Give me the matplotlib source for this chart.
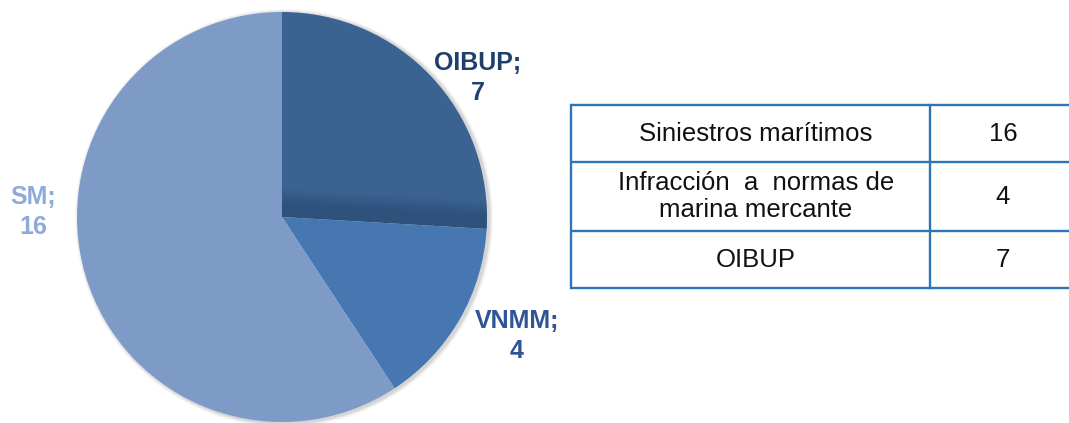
#!/usr/bin/env python3

import matplotlib.pyplot as plt
from matplotlib.patches import Polygon, Circle
import numpy as np

plt.rcParams['font.family'] = ['Liberation Sans', 'DejaVu Sans']

# pie data (clockwise from 12 o'clock)
pie_names  = ["OIBUP", "VNMM", "SM"]
pie_values = [7, 4, 16]
pie_colors = ["#3B6392", "#4677B0", "#7E9BC8"]
label_colors = ["#213F6E", "#2F5597", "#8EAADB"]
label_pos  = [(478, 78), (517, 336), (33, 212)]   # pixel positions (from top)

# table data
table_labels = ["Siniestros marítimos", "Infracción  a  normas de\nmarina mercante", "OIBUP"]
table_values = [16, 4, 7]

W, H = 1069, 423
px = 1/100
fig = plt.figure(figsize=(W*px, H*px), dpi=100)
ax = fig.add_axes([0, 0, 1, 1])

cx, cy, r = 282, H - 217, 205

# soft shadow around pie
for i, a in enumerate([0.05, 0.05, 0.04, 0.03]):
    ax.add_patch(Circle((cx + 2, cy - 1), r + 1 + i, color="#000000", alpha=a, lw=0, zorder=0))

wedges, _ = ax.pie(pie_values, colors=pie_colors, startangle=90, counterclock=False,
                   center=(cx, cy), radius=r, frame=True,
                   wedgeprops=dict(linewidth=0))

# dark band along the lower edge of the first slice
w0 = wedges[0]
ang = np.deg2rad(w0.theta1)
ex, ey = np.cos(ang), np.sin(ang)
nx, ny = -ey, ex
n = 14
for k in range(n):
    d0 = k * 2.0
    f = 1.0 if k < 6 else 1 - (k - 6) / (n - 6)
    pts = [(cx + nx*d0 - ex*10, cy + ny*d0 - ey*10),
           (cx + ex*(r+10) + nx*d0, cy + ey*(r+10) + ny*d0),
           (cx + ex*(r+10) + nx*(d0+2), cy + ey*(r+10) + ny*(d0+2)),
           (cx + nx*(d0+2) - ex*10, cy + ny*(d0+2) - ey*10)]
    strip = Polygon(pts, closed=True, color="#203C62", alpha=0.45*f, lw=0, zorder=2)
    ax.add_patch(strip)
    strip.set_clip_path(w0)

for name, val, col, (lx, ly) in zip(pie_names, pie_values, label_colors, label_pos):
    ax.text(lx, H - ly, f"{name};\n{val}", color=col, fontsize=18, fontweight="bold",
            ha="center", va="center", linespacing=1.3, zorder=5)

# table
rows_y = [105, 162, 231, 288]
x_left, x_div, x_right = 571, 930, 1075
line_col = "#2E75B6"
for y in rows_y:
    ax.plot([x_left, x_right], [H - y, H - y], color=line_col, lw=1.7, solid_capstyle="butt", zorder=5)
ax.plot([x_left, x_left], [H - rows_y[0], H - rows_y[-1]], color=line_col, lw=1.7, zorder=5)
ax.plot([x_div, x_div], [H - rows_y[0], H - rows_y[-1]], color=line_col, lw=1.7, zorder=5)

for i, (lab, val) in enumerate(zip(table_labels, table_values)):
    ym = H - (rows_y[i] + rows_y[i+1]) / 2
    ax.text(756, ym, lab, fontsize=18.5, ha="center", va="center", color="#111111", linespacing=1.15)
    ax.text(1003, ym, str(val), fontsize=18.5, ha="center", va="center", color="#111111")

ax.set_xlim(0, W)
ax.set_ylim(0, H)
ax.set_aspect("auto")
ax.axis("off")

plt.savefig("out.png", dpi=100)
